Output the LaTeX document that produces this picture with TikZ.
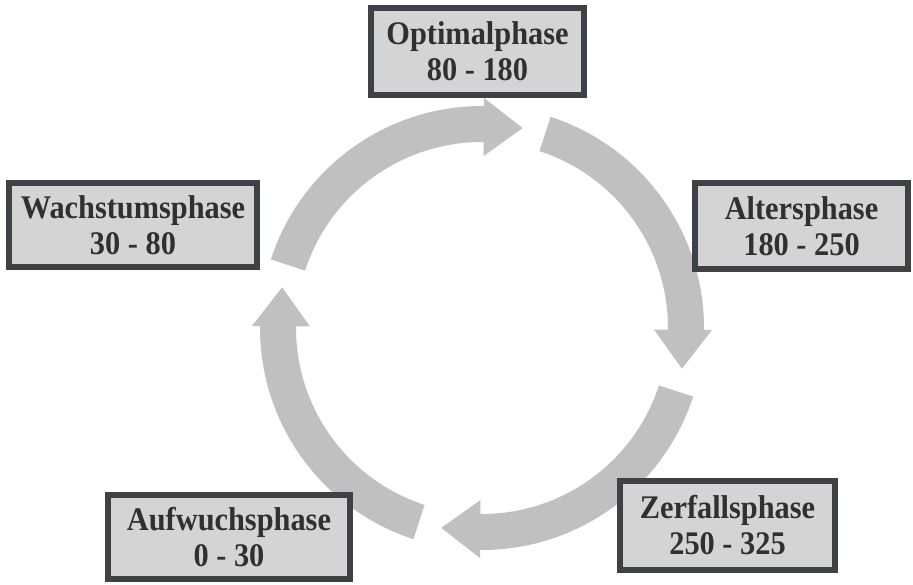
\documentclass[tikz,border=0pt]{standalone}
\usepackage{fontspec}
\setmainfont{Liberation Serif}
\newfontfamily\phasefont[FakeStretch=0.92]{Liberation Serif}
\definecolor{boxfill}{HTML}{D4D4D4}
\definecolor{boxline}{HTML}{3E4244}
\definecolor{txt}{HTML}{303030}
\definecolor{arrfill}{HTML}{C0C0C0}
\tikzset{
  phase/.style={draw=boxline, line width=6pt, fill=boxfill, text=txt,
    align=center, inner sep=0pt,
    font=\phasefont\fontsize{33pt}{36pt}\selectfont\bfseries},
  cyc/.style={fill=arrfill}
}
\newcommand{\cycarrow}[1]{%
  \fill[cyc] (#1:222pt) arc[start angle=#1, end angle=#1-72.5, radius=222pt]
    -- (#1-72.5:230pt) -- (#1-83.5:204pt) -- (#1-72.5:172pt) -- (#1-72.5:186pt)
    arc[start angle=#1-72.5, end angle=#1, radius=186pt] -- cycle;}
\begin{document}
\begin{tikzpicture}[x=1pt,y=1pt]
\useasboundingbox (0,0) rectangle (913,584);
\fill[white] (0,0) rectangle (913,584);
% cycle arrows
\coordinate (C) at (482,256);
\begin{scope}[shift={(C)}]
  \cycarrow{162}
  \cycarrow{72}
  \cycarrow{-18}
  \cycarrow{-108}
\end{scope}
% phase boxes
\node[phase, minimum width=213pt, minimum height=87pt] (opt) at (477.5,532.5) {Optimalphase\\80 - 180};
\node[phase, minimum width=248pt, minimum height=84pt] (wachs) at (133,359) {Wachstumsphase\\30 - 80};
\node[phase, minimum width=213pt, minimum height=86pt] (alter) at (801.5,358) {Altersphase\\180 - 250};
\node[phase, minimum width=242pt, minimum height=84pt] (aufw) at (229,47) {Aufwuchsphase\\0 - 30};
\node[phase, minimum width=215pt, minimum height=89pt] (zerf) at (727.5,58.5) {Zerfallsphase\\250 - 325};
\end{tikzpicture}
\end{document}
